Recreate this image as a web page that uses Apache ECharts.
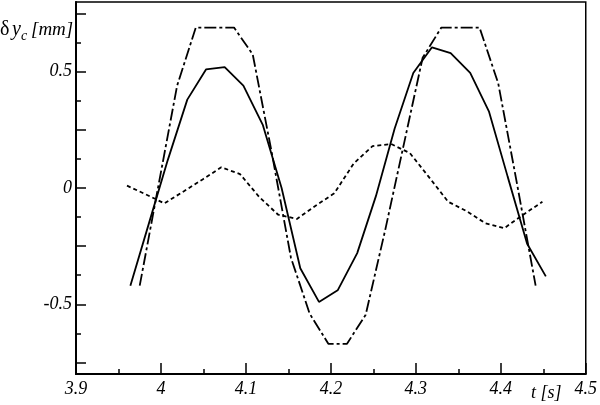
<!DOCTYPE html>
<html>
<head>
<meta charset="utf-8">
<script src="https://cdn.jsdelivr.net/npm/echarts@6/dist/echarts.min.js"></script>
<style>
  html, body { margin: 0; padding: 0; background: #fff; }
  #chart { width: 600px; height: 405px; }
</style>
</head>
<body>
<div id="chart"></div>
<script>
// solid curve
const tSolid = [3.964, 3.986, 4.008, 4.031, 4.053, 4.075, 4.097, 4.120, 4.142, 4.164, 4.186, 4.208,
  4.231, 4.253, 4.275, 4.297, 4.319, 4.341, 4.364, 4.386, 4.408, 4.431, 4.453];
const ySolid = [-0.42, -0.15, 0.12, 0.38, 0.51, 0.52, 0.44, 0.27, 0.0, -0.345, -0.49, -0.44,
  -0.28, -0.035, 0.255, 0.495, 0.605, 0.58, 0.495, 0.33, 0.05, -0.24, -0.38];

// dash-dot curve
const tDashDot = [3.975, 3.997, 4.019, 4.041, 4.064, 4.086, 4.108, 4.130, 4.153, 4.175, 4.197,
  4.219, 4.241, 4.264, 4.286, 4.308, 4.330, 4.352, 4.375, 4.397, 4.419, 4.441];
const yDashDot = [-0.42, 0.01, 0.44, 0.69, 0.69, 0.69, 0.575, 0.16, -0.30, -0.54, -0.67,
  -0.67, -0.545, -0.18, 0.19, 0.56, 0.69, 0.69, 0.69, 0.45, 0.02, -0.42];

// dotted curve
const tDotted = [3.960, 3.982, 4.004, 4.027, 4.049, 4.071, 4.093, 4.116, 4.138, 4.160, 4.182, 4.204,
  4.227, 4.249, 4.271, 4.293, 4.315, 4.338, 4.360, 4.382, 4.404, 4.426, 4.449];
const yDotted = [0.01, -0.027, -0.066, -0.014, 0.037, 0.089, 0.06, -0.04, -0.115, -0.133, -0.076, -0.023,
  0.106, 0.18, 0.189, 0.15, 0.049, -0.059, -0.10, -0.152, -0.173, -0.116, -0.059];

// ticks
const xMajor = [3.9, 4, 4.1, 4.2, 4.3, 4.4, 4.5];
const xMinor = [3.95, 4.05, 4.15, 4.25, 4.35, 4.45];
const yMajor = [-0.75, -0.5, -0.25, 0, 0.25, 0.5, 0.75];
const yMinor = [-0.625, -0.375, -0.125, 0.125, 0.375, 0.625];
const yLabels = [-0.5, 0, 0.5];

const zip = (ts, vs) => ts.map((t, i) => [t, vs[i]]);
const fmt = v => String(+v.toFixed(3));

const serif = "'Liberation Serif', 'DejaVu Serif', serif";
const labelStyle = {
  color: "#000",
  fontFamily: serif,
  fontStyle: "italic",
  fontSize: 18
};

const chart = echarts.init(document.getElementById("chart"));
chart.setOption({
  animation: false,
  backgroundColor: "#fff",
  grid: {
    left: 76,
    right: 12,
    top: 2,
    bottom: 31,
    show: true,
    borderColor: "#000",
    borderWidth: 1.5
  },
  xAxis: [
    {
      type: "value",
      min: 3.9,
      max: 4.5,
      position: "bottom",
      splitLine: { show: false },
      axisLine: { onZero: false, lineStyle: { color: "#000", width: 2 } },
      axisTick: { inside: true, length: 11, customValues: xMajor, lineStyle: { color: "#000", width: 1.5 } },
      axisLabel: { ...labelStyle, margin: 6, customValues: xMajor, formatter: fmt }
    },
    {
      type: "value",
      min: 3.9,
      max: 4.5,
      position: "bottom",
      splitLine: { show: false },
      axisLine: { show: false, onZero: false },
      axisTick: { inside: true, length: 5, customValues: xMinor, lineStyle: { color: "#000", width: 1.5 } },
      axisLabel: { show: false, customValues: xMinor }
    }
  ],
  yAxis: [
    {
      type: "value",
      min: -0.8,
      max: 0.8,
      position: "left",
      splitLine: { show: false },
      axisLine: { onZero: false, lineStyle: { color: "#000", width: 2 } },
      axisTick: { inside: true, length: 10, customValues: yMajor, lineStyle: { color: "#000", width: 1.5 } },
      axisLabel: { ...labelStyle, margin: 4, customValues: yLabels, formatter: fmt }
    },
    {
      type: "value",
      min: -0.8,
      max: 0.8,
      position: "left",
      splitLine: { show: false },
      axisLine: { show: false, onZero: false },
      axisTick: { inside: true, length: 5, customValues: yMinor, lineStyle: { color: "#000", width: 1.5 } },
      axisLabel: { show: false, customValues: yMinor }
    }
  ],
  graphic: [
    { type: "text", left: 0, top: 20, style: { text: "δ", font: "20px " + serif, fill: "#000" } },
    { type: "text", left: 12, top: 20, style: { text: "y", font: "italic 20px " + serif, fill: "#000" } },
    { type: "text", left: 21, top: 29, style: { text: "c", font: "italic 14px " + serif, fill: "#000" } },
    { type: "text", left: 31, top: 20, style: { text: "[mm]", font: "italic 19px " + serif, fill: "#000" } },
    { type: "text", left: 531, top: 384, style: { text: "t [s]", font: "italic 18px " + serif, fill: "#000" } }
  ],
  series: [
    {
      name: "solid",
      type: "line",
      data: zip(tSolid, ySolid),
      showSymbol: false,
      lineStyle: { color: "#000", width: 1.8, type: "solid" }
    },
    {
      name: "dashdot",
      type: "line",
      data: zip(tDashDot, yDashDot),
      showSymbol: false,
      lineStyle: { color: "#000", width: 1.8, type: [12, 3, 3, 3] }
    },
    {
      name: "dotted",
      type: "line",
      data: zip(tDotted, yDotted),
      showSymbol: false,
      lineStyle: { color: "#000", width: 1.8, type: [4, 3] }
    }
  ]
});
</script>
</body>
</html>
